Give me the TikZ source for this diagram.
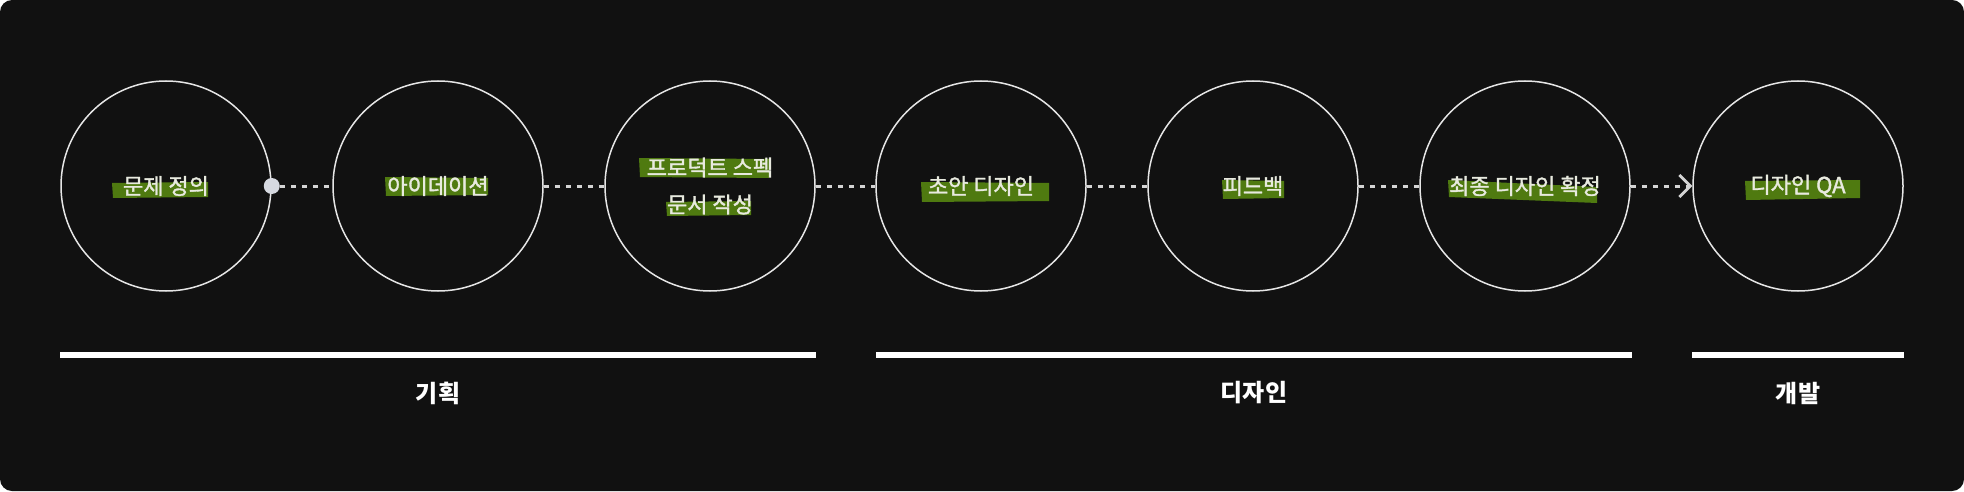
\documentclass[tikz,border=0pt]{standalone}
\usepackage{fontspec}
\newfontfamily\kr{Noto Sans CJK KR}
\newfontfamily\krm[FakeBold=1.6]{Noto Sans CJK KR}
\usetikzlibrary{arrows.meta}
\definecolor{bgc}{HTML}{111111}
\definecolor{ringc}{HTML}{E6E6E6}
\definecolor{txtc}{HTML}{E8EADF}
\definecolor{hlc}{HTML}{4F7A10}
\definecolor{dotc}{HTML}{D6D9E0}
\definecolor{dashc}{HTML}{D4D4D4}
\tikzset{
  stage/.style={circle, draw=ringc, line width=1.5pt, minimum size=210pt, inner sep=0pt,
    text=txtc, font=\krm\fontsize{22}{37}\selectfont, align=center},
  dotst/.style={circle, fill=dotc, minimum size=16pt, inner sep=0pt},
  conn/.style={draw=dashc, line width=3pt, dash pattern=on 5.5pt off 5.5pt},
  barst/.style={rectangle, fill=white, minimum height=6pt, inner sep=0pt},
  phase/.style={text=white, font=\kr\bfseries\fontsize{24}{28}\selectfont},
  hl/.style={fill=hlc}
}
\begin{document}
\begin{tikzpicture}[x=1pt,y=1pt]
\fill[white] (0,0) rectangle (1964,491);
\fill[bgc, rounded corners=12pt] (0,0) rectangle (1964,491);
\useasboundingbox (0,0) rectangle (1964,491);
% highlights
\fill[hl] (112,308) -- (208,309) -- (208,294) -- (113,293) -- cycle;
\fill[hl] (385,314) -- (488,313) -- (488,296) -- (386,295) -- cycle;
\fill[hl] (639,333) -- (769,332) -- (769,313) -- (640,314) -- cycle;
\fill[hl] (666,289) -- (751,290) -- (751,276) -- (667,275) -- cycle;
\fill[hl] (921,309) -- (1049,308) -- (1049,290) -- (922,289) -- cycle;
\fill[hl] (1222,311) -- (1284,310) -- (1284,293) -- (1223,292) -- cycle;
\fill[hl] (1448,311) -- (1597,304) -- (1597,288) -- (1449,294) -- cycle;
\fill[hl] (1745,310) -- (1860,311) -- (1860,293) -- (1746,291) -- cycle;
% stages
\node[stage] (c1) at (166,305) {문제 정의};
\node[stage] (c2) at (438,305) {아이데이션};
\node[stage] (c3) at (710,305) {프로덕트 스펙\\문서 작성};
\node[stage] (c4) at (981,305) {초안 디자인};
\node[stage] (c5) at (1253,305) {피드백};
\node[stage] (c6) at (1525,305) {최종 디자인 확정};
\node[stage] (c7) at (1798,305) {디자인 QA};
\node[dotst] (d) at (c1.east) {};
% connectors
\draw[conn] (d) -- (c2);
\draw[conn] (c2) -- (c3);
\draw[conn] (c3) -- (c4);
\draw[conn] (c4) -- (c5);
\draw[conn] (c5) -- (c6);
\draw[conn, -{Straight Barb[length=11pt,width=22pt,line width=2.8pt]}] (c6) -- (c7);
% phases
\node[barst, minimum width=756pt] (b1) at (438,136) {};
\node[barst, minimum width=756pt] (b2) at (1254,136) {};
\node[barst, minimum width=212pt] (b3) at (1798,136) {};
\node[phase] (p1) at (438,98) {기획};
\node[phase] (p2) at (1254,98) {디자인};
\node[phase] (p3) at (1798,98) {개발};
\end{tikzpicture}
\end{document}
